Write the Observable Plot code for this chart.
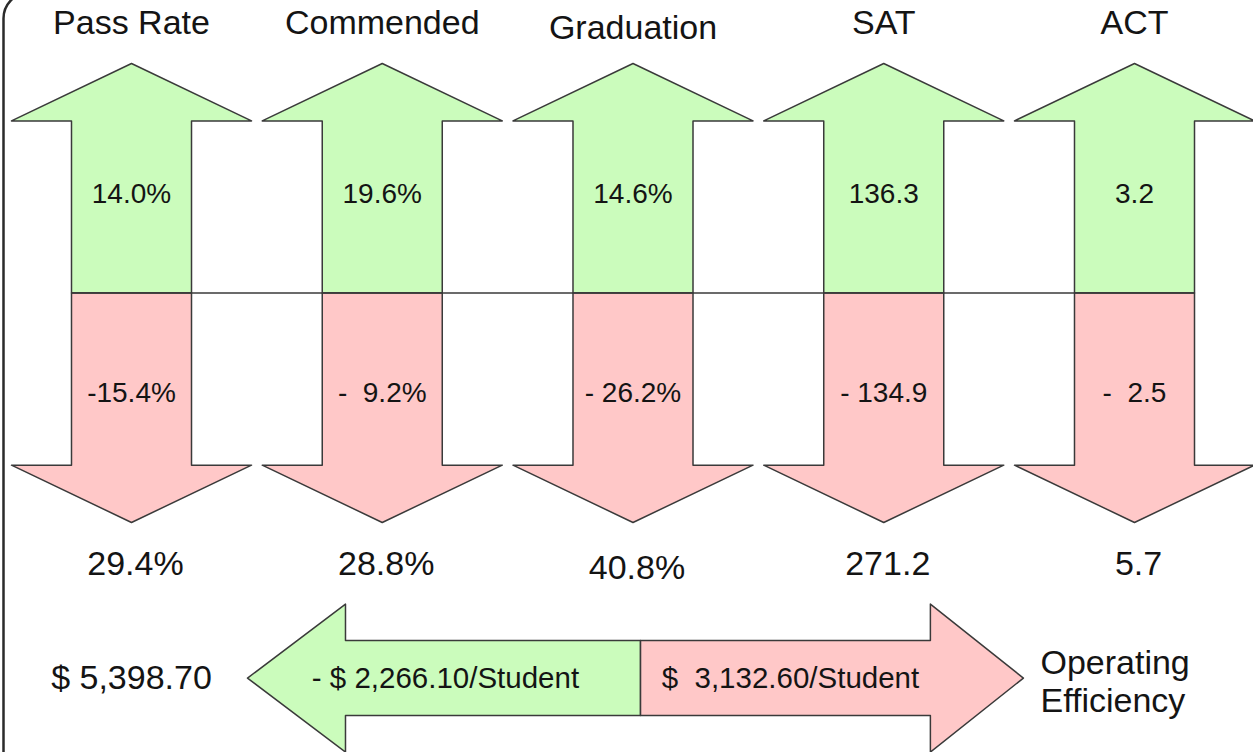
<!DOCTYPE html>
<html>
<head>
<meta charset="utf-8">
<script src="https://cdn.jsdelivr.net/npm/d3@7"></script>
<script src="https://cdn.jsdelivr.net/npm/@observablehq/plot@0.6"></script>
<style>
  html, body { margin: 0; padding: 0; background: #fff; overflow: hidden; }
  svg text { white-space: pre; }
</style>
</head>
<body>
<div id="chart"></div>
<script>
// ---- data ----
const categories = ["Pass Rate", "Commended", "Graduation", "SAT", "ACT"];
const gainValues = [14.0, 19.6, 14.6, 136.3, 3.2];
const lossValues = [-15.4, -9.2, -26.2, -134.9, -2.5];
const totalValues = [29.4, 28.8, 40.8, 271.2, 5.7];
const gainLabels = ["14.0%", "19.6%", "14.6%", "136.3", "3.2"];
const lossLabels = ["-15.4%", "-  9.2%", "- 26.2%", "- 134.9", "-  2.5"];
const totalLabels = ["29.4%", "28.8%", "40.8%", "271.2", "5.7"];
const budgetLabel = "$ 5,398.70";
const savingLabel = "- $ 2,266.10/Student";
const costLabel = "$  3,132.60/Student";
const efficiencyLabel = "Operating\nEfficiency";

// ---- style / layout ----
const GREEN = "#cbfcbc", PINK = "#ffc8c8", STROKE = "#3a3a3a", INK = "#141414";
const FONT = "'Liberation Sans', Arial, Helvetica, sans-serif";
const headHalf = 0.4786, shaftHalf = 0.2393, headBase = 0.75, tip = 1;

// arrow outlines in scale units (x: category index, y: direction, 0 = baseline)
function vArrow(i, dir, id) {
  const s = dir;
  return [
    [i - shaftHalf, 0], [i - shaftHalf, s * headBase], [i - headHalf, s * headBase],
    [i, s * tip], [i + headHalf, s * headBase], [i + shaftHalf, s * headBase],
    [i + shaftHalf, 0], [i - shaftHalf, 0]
  ].map(([x, y]) => ({x, y, id}));
}
const upPts = categories.flatMap((c, i) => vArrow(i, 1, "up" + i));
const downPts = categories.flatMap((c, i) => vArrow(i, -1, "dn" + i));

// bottom horizontal arrow
const yc = -1.678, hH = 0.3224, hS = 0.1634;
const lTip = 0.4626, lBase = 0.8534, split = 2.03, rBase = 3.186, rTip = 3.557;
const leftPts = [[lTip, yc], [lBase, yc + hH], [lBase, yc + hS], [split, yc + hS],
  [split, yc - hS], [lBase, yc - hS], [lBase, yc - hH], [lTip, yc]].map(([x, y]) => ({x, y}));
const rightPts = [[split, yc + hS], [rBase, yc + hS], [rBase, yc + hH], [rTip, yc],
  [rBase, yc - hH], [rBase, yc - hS], [split, yc - hS], [split, yc + hS]].map(([x, y]) => ({x, y}));

const idx = (d, i) => i;
// Graduation's title and total sit a little lower in the reference
const drop = (i, base, off) => i === 2 ? base - off : base;

const chart = Plot.plot({
  width: 1253,
  height: 752,
  margin: 0,
  style: {fontFamily: FONT, background: "#fff", overflow: "hidden"},
  x: {type: "linear", domain: [0, 4], range: [131, 1134], axis: null},
  y: {type: "linear", domain: [-1, 1], range: [522, 63], axis: null},
  marks: [
    Plot.frame({stroke: "#2b2b2b", strokeWidth: 2.5, rx: 26, insetLeft: 3, insetTop: -8, insetRight: -60, insetBottom: -60}),
    Plot.line(upPts, {x: "x", y: "y", z: "id", fill: GREEN, stroke: STROKE, strokeWidth: 1.5, curve: "linear"}),
    Plot.line(downPts, {x: "x", y: "y", z: "id", fill: PINK, stroke: STROKE, strokeWidth: 1.5, curve: "linear"}),
    Plot.ruleY([0], {x1: -shaftHalf, x2: categories.length - 1 + shaftHalf, stroke: STROKE, strokeWidth: 1.5}),
    Plot.line(leftPts, {x: "x", y: "y", fill: GREEN, stroke: STROKE, strokeWidth: 1.5}),
    Plot.line(rightPts, {x: "x", y: "y", fill: PINK, stroke: STROKE, strokeWidth: 1.5}),
    Plot.text(categories, {x: idx, y: (d, i) => drop(i, 1.177, 0.022), text: d => d, fontSize: 34, fill: INK}),
    Plot.text(gainValues, {x: idx, y: 0.432, text: (d, i) => gainLabels[i], fontSize: 28, fill: INK}),
    Plot.text(lossValues, {x: idx, y: -0.436, text: (d, i) => lossLabels[i], fontSize: 28, fill: INK}),
    Plot.text(totalValues, {x: idx, y: (d, i) => drop(i, -1.181, 0.017), dx: 4, text: (d, i) => totalLabels[i], fontSize: 34, fill: INK}),
    Plot.text([budgetLabel], {x: 0, y: yc, text: d => d, fontSize: 34, fill: INK}),
    Plot.text([savingLabel], {x: 1.252, y: yc, text: d => d, fontSize: 29.5, fill: INK}),
    Plot.text([costLabel], {x: 2.628, y: yc, text: d => d, fontSize: 29.5, fill: INK}),
    Plot.text([efficiencyLabel], {x: 3.625, y: yc - 0.01, text: d => d, textAnchor: "start", fontSize: 34, lineHeight: 1.12, fill: INK})
  ]
});
document.getElementById("chart").appendChild(chart);
</script>
</body>
</html>
